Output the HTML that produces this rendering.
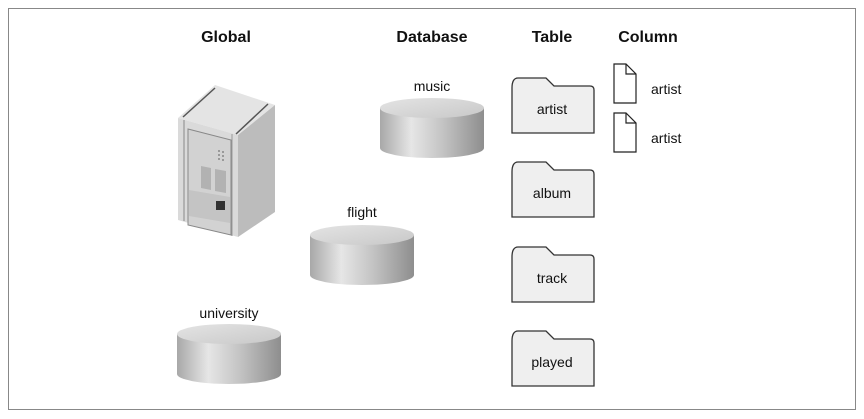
<!DOCTYPE html>
<html><head><meta charset="utf-8"><style>
body{margin:0;background:#fff;}
svg{display:block}
text{font-family:"Liberation Sans",sans-serif;}
</style></head><body>
<svg width="864" height="419" viewBox="0 0 864 419" xmlns="http://www.w3.org/2000/svg">
<defs>
<linearGradient id="cyl" x1="0" x2="1" y1="0" y2="0">
<stop offset="0" stop-color="#a8a8a8"/><stop offset="0.3" stop-color="#e6e6e6"/><stop offset="0.6" stop-color="#c4c4c4"/><stop offset="1" stop-color="#8e8e8e"/>
</linearGradient>
<linearGradient id="ctop" x1="0" x2="1" y1="0" y2="1">
<stop offset="0" stop-color="#e4e4e4"/><stop offset="1" stop-color="#c8c8c8"/>
</linearGradient>
<g id="cyl1">
<path d="M0 0 V40 A52 10 0 0 0 104 40 V0 Z" fill="url(#cyl)"/>
<ellipse cx="52" cy="0" rx="52" ry="10" fill="url(#ctop)"/>
</g>
<g id="fold">
<path d="M2 10 Q2 0 8 0 H36 L44 8 H80 Q84 8 84 12 V55 H2 Z" fill="#efefef" stroke="#333" stroke-width="1.3"/>
</g>
<g id="doc">
<path d="M0 0 H12 L22 10 V39 H0 Z" fill="#fff" stroke="#222" stroke-width="1.2"/>
<path d="M12 0 V10 H22" fill="none" stroke="#222" stroke-width="1.2"/>
</g>
</defs>
<rect x="8.5" y="8.5" width="847" height="401" fill="#fff" stroke="#888" stroke-width="1"/>
<g font-weight="bold" font-size="16" text-anchor="middle" fill="#111">
<text x="226" y="42">Global</text>
<text x="432" y="42">Database</text>
<text x="552" y="42">Table</text>
<text x="648" y="42">Column</text>
</g>
<!-- server -->
<g>
<polygon points="178,118 215,85 275,105 238,135" fill="#e4e4e4"/>
<polygon points="238,135 275,105 275,212 238,237" fill="#bcbcbc"/>
<polygon points="178,118 238,135 238,237 178,220" fill="#dadada"/>
<line x1="183" y1="117" x2="215" y2="88" stroke="#555" stroke-width="1.5"/>
<line x1="236" y1="134" x2="268" y2="104" stroke="#555" stroke-width="1.5"/>
<line x1="184" y1="120" x2="184" y2="221" stroke="#888"/>
<line x1="232" y1="134" x2="232" y2="236" stroke="#999"/>
<polygon points="188,129 231,140 231,235 188,225" fill="#d2d2d2" stroke="#888"/>
<polygon points="201,166 211,168 211,190 201,188" fill="#b2b2b2"/>
<polygon points="215,169 226,171 226,193 215,191" fill="#b2b2b2"/>
<polygon points="189,190 230,197 230,223 189,216" fill="#c4c4c4"/>
<rect x="216" y="201" width="9" height="9" fill="#333"/>
<g fill="#999"><rect x="218" y="150" width="2" height="2"/><rect x="222" y="151" width="2" height="2"/><rect x="218" y="154" width="2" height="2"/><rect x="222" y="155" width="2" height="2"/><rect x="218" y="158" width="2" height="2"/><rect x="222" y="159" width="2" height="2"/></g>
</g>
<g font-size="14" text-anchor="middle" fill="#111">
<text x="432" y="91">music</text>
<text x="362" y="217">flight</text>
<text x="229" y="318">university</text>
</g>
<use href="#cyl1" x="380" y="108"/>
<use href="#cyl1" x="310" y="235"/>
<use href="#cyl1" x="177" y="334"/>
<use href="#fold" x="510" y="78"/>
<use href="#fold" x="510" y="162"/>
<use href="#fold" x="510" y="247"/>
<use href="#fold" x="510" y="331"/>
<g font-size="14" text-anchor="middle" fill="#111">
<text x="552" y="114">artist</text>
<text x="552" y="198">album</text>
<text x="552" y="283">track</text>
<text x="552" y="367">played</text>
</g>
<use href="#doc" x="614" y="64"/>
<use href="#doc" x="614" y="113"/>
<g font-size="14" fill="#111">
<text x="651" y="94">artist</text>
<text x="651" y="143">artist</text>
</g>
</svg>
</body></html>
